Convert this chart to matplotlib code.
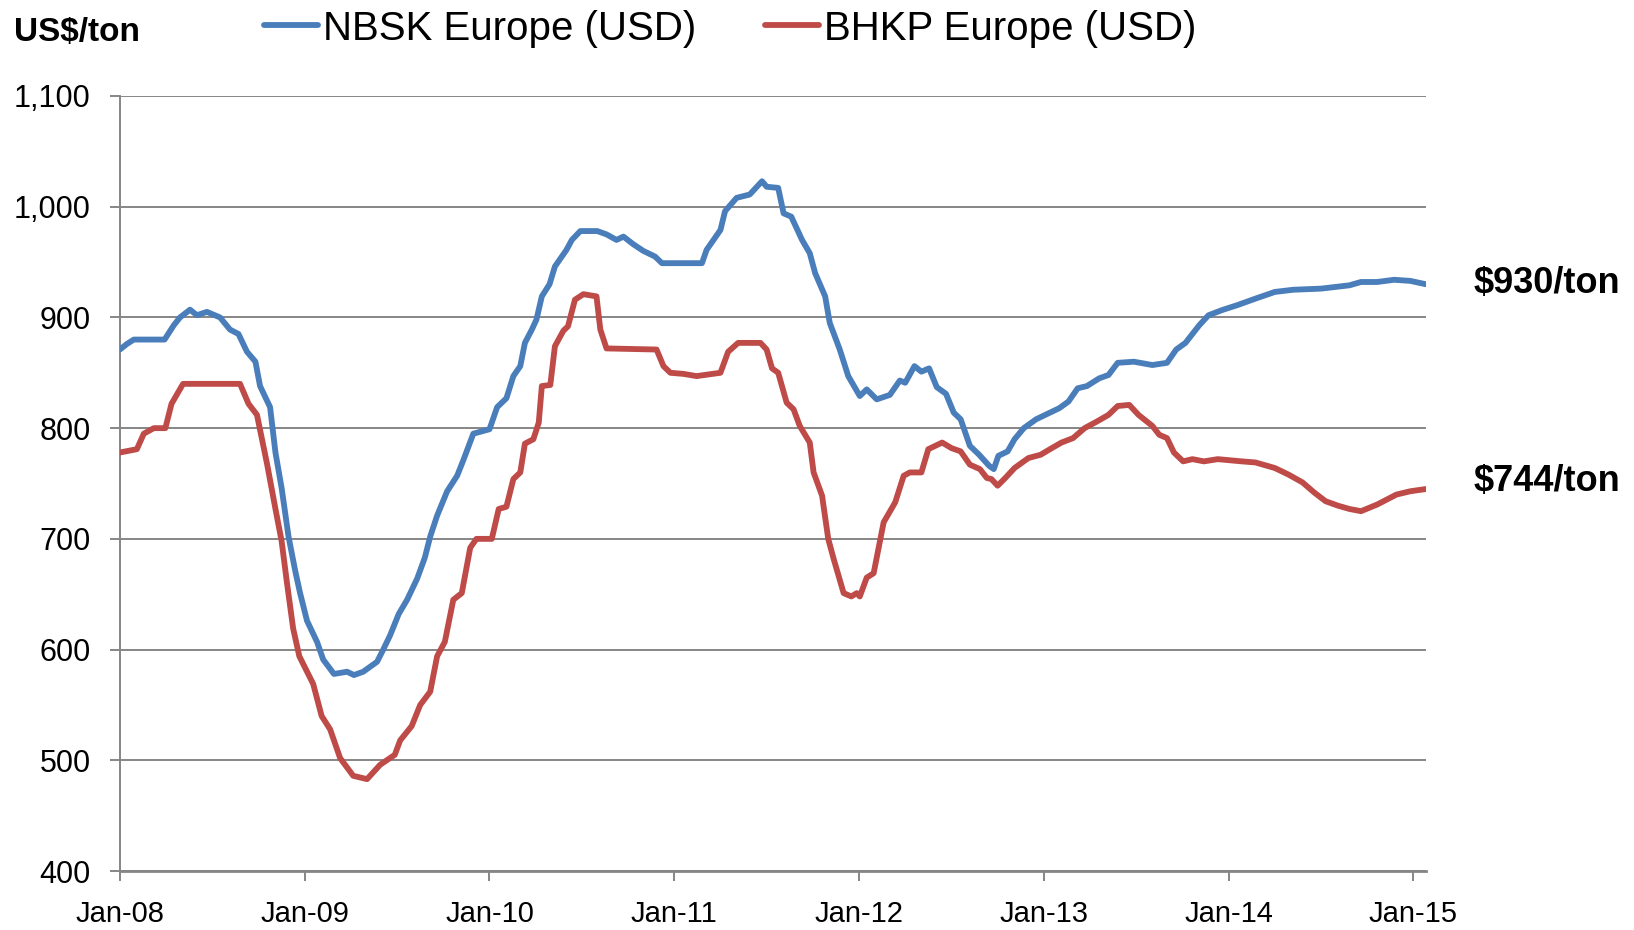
import numpy as np
import matplotlib
matplotlib.use('Agg')
import matplotlib.pyplot as plt
from matplotlib.ticker import FuncFormatter

# months since Jan-08, values in US$/ton
nbsk_month = [0.0, 0.45, 0.9, 2.9, 3.5, 3.9, 4.55, 5.0, 5.65, 6.5, 7.15, 7.7, 8.25, 8.8,
              9.1, 9.75, 10.1, 10.5, 10.95, 11.4, 11.7, 12.15, 12.8, 13.2, 13.9, 14.75,
              15.2, 15.8, 16.7, 17.1, 17.55, 18.1, 18.65, 19.3, 19.8, 20.15, 20.6, 21.25,
              21.9, 22.3, 22.95, 24.0, 24.5, 25.1, 25.55, 26.0, 26.3, 26.75, 27.05, 27.4,
              27.9, 28.25, 28.7, 29.0, 29.35, 29.9, 31.0, 31.6, 32.25, 32.7, 33.35, 34.0,
              34.75, 35.2, 36.6, 37.8, 38.1, 39.0, 39.3, 40.05, 40.9, 41.7, 42.0, 42.75,
              43.1, 43.6, 44.3, 44.8, 45.15, 45.8, 46.1, 46.75, 47.3, 48.05, 48.5, 49.15,
              50.0, 50.65, 51.0, 51.6, 52.05, 52.55, 53.05, 53.65, 54.15, 54.6, 55.2,
              55.8, 56.45, 56.75, 57.05, 57.65, 58.1, 58.7, 59.5, 60.4, 61.0, 61.6, 62.2,
              62.8, 63.6, 64.2, 64.8, 65.85, 67.05, 68.0, 68.6, 69.2, 70.1, 70.7, 71.65,
              72.55, 73.75, 75.0, 76.2, 78.0, 79.85, 80.6, 81.65, 82.75, 83.8, 84.8]
nbsk = [871, 876, 880, 880, 893, 900, 907, 902, 905, 900, 889, 885, 869, 860,
        838, 819, 778, 746, 702, 670, 651, 626, 607, 591, 578, 580,
        577, 580, 589, 600, 613, 632, 645, 664, 683, 702, 721, 743,
        757, 771, 795, 799, 819, 827, 847, 856, 877, 889, 898, 919,
        930, 946, 955, 961, 970, 978, 978, 975, 970, 973, 966, 960,
        955, 949, 949, 949, 961, 979, 996, 1008, 1011, 1023, 1018, 1017,
        994, 991, 970, 958, 940, 919, 895, 871, 847, 829, 835, 826,
        830, 843, 841, 856, 851, 854, 837, 831, 814, 808, 784,
        776, 766, 763, 775, 779, 790, 800, 808, 814, 818, 824, 836,
        838, 845, 848, 859, 860, 857, 859, 871, 877, 893, 902, 907,
        911, 917, 923, 925, 926, 929, 932, 932, 934, 933, 930]

bhkp_month = [0.0, 1.1, 1.55, 2.2, 2.95, 3.35, 4.1, 7.8, 8.35, 8.9, 9.55, 10.1, 10.5,
              10.85, 11.25, 11.65, 12.55, 13.1, 13.65, 14.3, 15.15, 16.05, 16.9, 17.85,
              18.2, 18.95, 19.5, 20.15, 20.6, 21.1, 21.65, 22.2, 22.75, 23.15, 24.15,
              24.6, 25.1, 25.55, 26.0, 26.3, 26.85, 27.2, 27.4, 27.95, 28.25, 28.8, 29.1,
              29.55, 30.1, 30.95, 31.2, 31.6, 34.85, 35.3, 35.75, 36.6, 37.45, 39.0, 39.5,
              40.15, 41.6, 42.0, 42.35, 42.75, 43.3, 43.75, 44.15, 44.8, 45.05, 45.6,
              46.0, 46.35, 47.0, 47.5, 47.85, 48.05, 48.5, 48.95, 49.6, 50.35, 50.9,
              51.3, 52.05, 52.5, 53.4, 54.0, 54.6, 55.2, 55.85, 56.3, 56.6, 57.0, 57.5,
              58.1, 59.0, 59.8, 60.4, 61.15, 61.9, 62.65, 63.45, 64.2, 64.8, 65.55,
              66.15, 67.05, 67.5, 68.0, 68.45, 69.05, 69.65, 70.4, 71.3, 72.85, 73.75,
              75.0, 75.9, 76.8, 77.55, 78.3, 79.1, 79.85, 80.6, 81.65, 82.9, 83.8, 84.8]
bhkp = [778, 781, 795, 800, 800, 822, 840, 840, 822, 812, 768, 727, 698,
        660, 619, 594, 569, 540, 528, 502, 486, 483, 496, 505,
        518, 531, 550, 562, 594, 607, 645, 651, 692, 700, 700,
        727, 729, 754, 760, 786, 790, 805, 838, 839, 874, 888, 892,
        916, 921, 919, 889, 872, 871, 856, 850, 849, 847, 850, 869,
        877, 877, 871, 854, 850, 823, 817, 802, 787, 760, 739,
        700, 682, 651, 648, 651, 648, 665, 669, 715, 733, 757,
        760, 760, 781, 787, 782, 779, 767, 763, 755, 754, 748, 755,
        764, 773, 776, 781, 787, 791, 800, 806, 812, 820, 821,
        812, 802, 794, 791, 778, 770, 772, 770, 772, 770, 769,
        764, 758, 751, 742, 734, 730, 727, 725, 731, 740, 743, 745]

tick_months = [0, 12, 24, 36, 48, 60, 72, 84]
tick_labels = ['Jan-08', 'Jan-09', 'Jan-10', 'Jan-11', 'Jan-12', 'Jan-13', 'Jan-14', 'Jan-15']

plt.rcParams['font.family'] = ['Liberation Sans', 'DejaVu Sans']

blue = '#4A7EBB'
red = '#BE4B48'
grey = '#868686'

fig = plt.figure(figsize=(16.34, 9.3), dpi=100)
ax = fig.add_axes([0.0734, 0.0634, 0.7991, 0.8334])

ax.plot(nbsk_month, nbsk, color=blue, lw=4.2, solid_joinstyle='round',
        solid_capstyle='round', label='NBSK Europe (USD)', zorder=3)
ax.plot(bhkp_month, bhkp, color=red, lw=4.2, solid_joinstyle='round',
        solid_capstyle='round', label='BHKP Europe (USD)', zorder=3)

ax.set_xlim(0, 84.8)
ax.set_ylim(400, 1100)
ax.set_yticks(np.arange(400, 1101, 100))
ax.yaxis.set_major_formatter(FuncFormatter(lambda v, p: f'{int(v):,}'))
ax.set_xticks(tick_months)
ax.set_xticklabels(tick_labels)

ax.grid(axis='y', color=grey, lw=1.4)
ax.set_axisbelow(True)
for s in ['top', 'right']:
    ax.spines[s].set_visible(False)
ax.spines['left'].set_color(grey)
ax.spines['left'].set_linewidth(1.4)
ax.spines['bottom'].set_color(grey)
ax.spines['bottom'].set_linewidth(2.0)
ax.tick_params(axis='y', length=7, width=1.4, color=grey, pad=14, labelsize=22)
ax.tick_params(axis='x', length=7, width=1.4, color=grey, pad=14, labelsize=21)

fig.text(0.0083, 0.965, 'US$/ton', fontsize=24, fontweight='bold', va='center', ha='left')

ax.legend(loc='center left', bbox_to_anchor=(0.1105, 1.087), ncol=2, frameon=False,
          fontsize=29, handlelength=1.34, handletextpad=0.12, columnspacing=1.7,
          borderaxespad=0, borderpad=0)

ax.text(1.037, 931, '$930/ton', transform=ax.get_yaxis_transform(), fontsize=26,
        fontweight='bold', va='center', ha='left')
ax.text(1.037, 752, '$744/ton', transform=ax.get_yaxis_transform(), fontsize=26,
        fontweight='bold', va='center', ha='left')

fig.savefig('out.png', dpi=100)
